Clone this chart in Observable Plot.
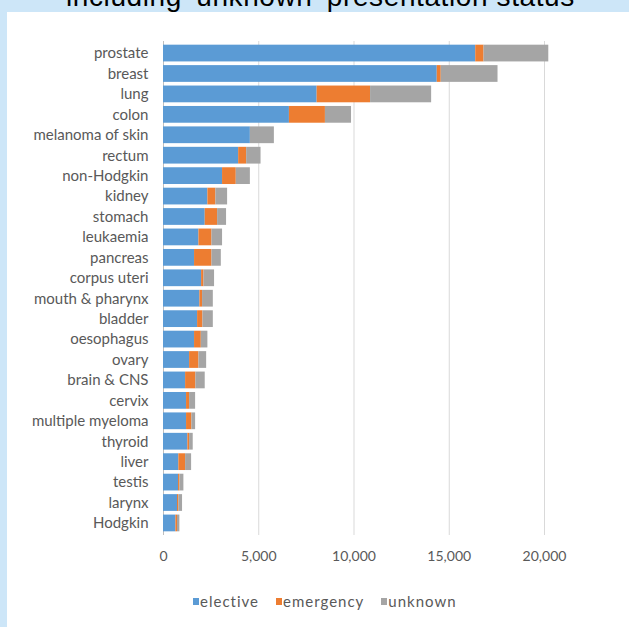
<!DOCTYPE html>
<html>
<head>
<meta charset="utf-8">
<script src="https://cdn.jsdelivr.net/npm/d3@7"></script>
<script src="https://cdn.jsdelivr.net/npm/@observablehq/plot@0.6"></script>
<style>
  html, body { margin: 0; padding: 0; }
  body { width: 629px; height: 627px; position: relative; overflow: hidden; background: #cde6f8; }
  #panel { position: absolute; left: 7px; top: 12px; right: 0; bottom: 0; background: #ffffff; }
  #title { position: absolute; left: 66px; top: -19px; font-family: "Liberation Sans", Arial, sans-serif; font-size: 28px; letter-spacing: 0.6px; color: #000; white-space: nowrap; line-height: normal; }
  #chart { position: absolute; left: 0; top: 0; }
  #legend { position: absolute; left: 193px; top: 592px; display: flex; align-items: center; font-family: Lato, sans-serif; font-size: 15px; letter-spacing: 1px; color: #595959; }
  .item { display: flex; align-items: center; margin-right: 17px; }
  .sw { width: 6px; height: 7px; margin-right: 1px; }
</style>
</head>
<body>
<div id="panel"></div>
<div id="title">including 'unknown' presentation status</div>
<div id="chart"></div>
<div id="legend"></div>
<script>
const categories = ["prostate","breast","lung","colon","melanoma of skin","rectum","non-Hodgkin","kidney","stomach","leukaemia","pancreas","corpus uteri","mouth & pharynx","bladder","oesophagus","ovary","brain & CNS","cervix","multiple myeloma","thyroid","liver","testis","larynx","Hodgkin"];
const elective  = [16390,14370,8065,6610,4560,3945,3100,2330,2190,1860,1630,2000,1910,1790,1630,1370,1160,1210,1210,1280,805,790,735,650];
const emergency = [435,210,2805,1890,0,420,720,420,650,685,915,125,140,280,355,490,540,160,280,90,355,70,70,85];
const unknown   = [3400,2980,3205,1370,1260,755,740,615,470,555,490,555,565,545,345,405,490,315,195,190,315,210,195,125];
const seriesNames = ["elective","emergency","unknown"];
const seriesColors = ["#5b9bd5","#ed7d31","#a5a5a5"];
const xTicks = [0,5000,10000,15000,20000];

const seriesValues = [elective, emergency, unknown];
const data = [];
categories.forEach((c, i) => {
  seriesNames.forEach((s, j) => data.push({category: c, series: s, value: seriesValues[j][i]}));
});

const chart = Plot.plot({
  width: 629,
  height: 575,
  marginLeft: 163,
  marginRight: 85,
  marginTop: 41,
  marginBottom: 40,
  style: {background: "transparent", fontFamily: "Lato, sans-serif", fontSize: "14px", color: "#595959"},
  x: {domain: [0, 20000], label: null},
  y: {domain: categories, padding: 0.18, round: false, label: null},
  color: {domain: seriesNames, range: seriesColors},
  marks: [
    Plot.gridX(xTicks, {stroke: "#d9d9d9", strokeOpacity: 1, strokeWidth: 1}),
    Plot.ruleX([0], {stroke: "#bfbfbf", strokeWidth: 1}),
    Plot.barX(data, Plot.stackX({x: "value", y: "category", fill: "series", order: seriesNames, inset: 0})),
    Plot.axisX({ticks: xTicks, tickFormat: d3.format(","), tickSize: 0, tickPadding: 16, label: null, fill: "#595959"}),
    Plot.axisY({tickSize: 0, tickPadding: 15, label: null, fill: "#595959", fontSize: 15, style: "letter-spacing:0.2px"})
  ]
});
document.getElementById("chart").appendChild(chart);

const legend = document.getElementById("legend");
seriesNames.forEach((s, j) => {
  const item = document.createElement("div");
  item.className = "item";
  const sw = document.createElement("span");
  sw.className = "sw";
  sw.style.background = seriesColors[j];
  const t = document.createElement("span");
  t.textContent = s;
  item.appendChild(sw);
  item.appendChild(t);
  legend.appendChild(item);
});
</script>
</body>
</html>
